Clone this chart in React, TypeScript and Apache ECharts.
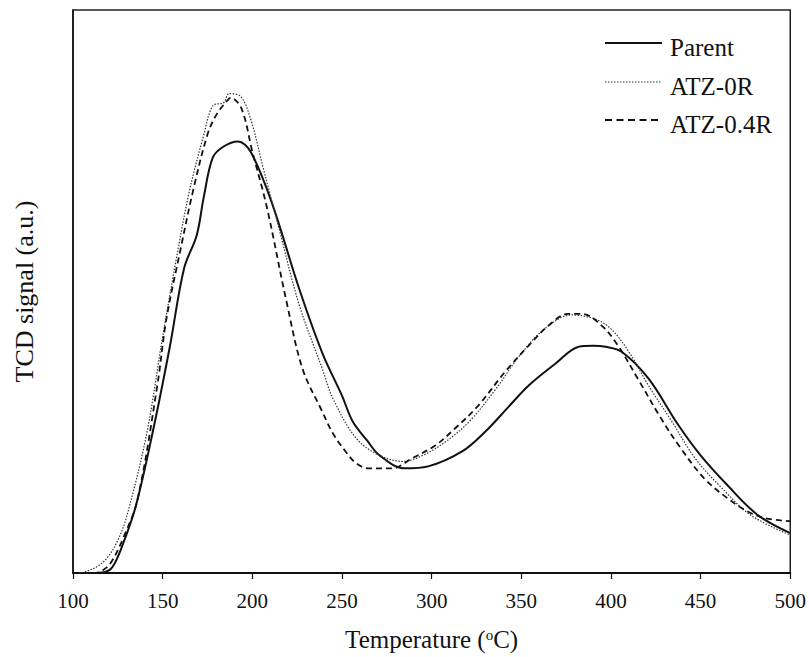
import React, { useEffect, useRef } from "react";
import * as echarts from "echarts";

const parentT = [100, 110, 118, 122, 127, 135, 145, 154, 162, 169, 173, 178, 184, 192, 199, 211, 226, 239, 250, 256, 264, 271, 285, 298, 317, 330, 343, 354, 369, 382, 390, 397, 406, 421, 437, 450, 465, 482, 500];
const parentV = [0, 0, 1, 6, 25, 67, 146, 227, 306, 339, 378, 417, 428, 433, 423, 371, 286, 221, 178, 152, 133, 118, 105, 107, 122, 142, 167, 188, 210, 227, 228, 227, 222, 195, 150, 118, 88, 58, 40];

const atz0T = [100, 104, 108, 113, 119, 125, 130, 141, 150, 158, 165, 173, 178, 184, 187, 193, 199, 206, 215, 226, 239, 245, 258, 271, 284, 295, 308, 321, 336, 349, 363, 378, 391, 400, 410, 421, 434, 447, 462, 478, 500];
const atz0V = [0, 0, 2, 6, 15, 33, 57, 139, 237, 319, 384, 440, 469, 472, 481, 479, 456, 407, 345, 270, 205, 175, 135, 118, 112, 118, 132, 152, 185, 218, 245, 259, 255, 245, 222, 188, 152, 115, 85, 58, 38];

const atz04T = [100, 112, 116, 121, 128, 136, 147, 152, 160, 167, 175, 180, 186, 188, 194, 200, 208, 219, 228, 239, 245, 252, 258, 265, 278, 289, 302, 313, 326, 341, 354, 365, 376, 384, 395, 404, 415, 428, 439, 452, 465, 476, 486, 500];
const atz04V = [0, 0, 2, 10, 35, 74, 188, 254, 325, 384, 440, 460, 474, 477, 466, 423, 368, 273, 205, 162, 140, 122, 110, 105, 105, 115, 128, 145, 168, 202, 228, 248, 260, 260, 248, 228, 195, 155, 125, 95, 75, 62, 55, 52];

const seriesNames = ["Parent", "ATZ-0R", "ATZ-0.4R"];
const xTicks = { min: 100, max: 500, interval: 50 };

const FONT = "'Liberation Serif', 'DejaVu Serif', serif";

const lineStyles = [
  { color: "#111", width: 2, type: "solid" as any },
  { color: "#333", width: 1.2, type: [1.5, 1.5] as any },
  { color: "#111", width: 1.8, type: [6, 4] as any },
];

function pairs(t: number[], v: number[]) {
  return t.map((x, i) => [x, v[i]]);
}

export default function App() {
  const ref = useRef<HTMLDivElement>(null);
  useEffect(() => {
    if (!ref.current) return;
    const chart = echarts.init(ref.current, undefined, { renderer: "svg" });
    const legendTops = [43, 82, 120];
    const legendGraphics: any[] = [];
    seriesNames.forEach((name, i) => {
      const ls = lineStyles[i];
      legendGraphics.push({
        type: "line",
        shape: { x1: 605, y1: legendTops[i], x2: 662, y2: legendTops[i] },
        style: {
          stroke: ls.color,
          lineWidth: i === 1 ? 1.2 : i === 2 ? 1.8 : 2,
          lineDash: i === 0 ? null : i === 1 ? [1.5, 1.5] : [7, 4.5],
        },
        silent: true,
      });
      legendGraphics.push({
        type: "text",
        x: 670,
        y: legendTops[i] + 4,
        style: {
          text: name,
          fontFamily: FONT,
          fontSize: 25,
          fill: "#111",
          verticalAlign: "middle",
          align: "left",
        },
        silent: true,
      });
    });
    chart.setOption({
      animation: false,
      backgroundColor: "#fff",
      grid: {
        left: 73,
        right: 17,
        top: 10,
        bottom: 82,
        show: true,
        borderColor: "#222",
        borderWidth: 1.5,
      },
      graphic: legendGraphics,
      xAxis: {
        type: "value",
        min: xTicks.min,
        max: xTicks.max,
        interval: xTicks.interval,
        name: "{a|Temperature (}{s|o}{a|C)}",
        nameLocation: "middle",
        nameGap: 54,
        nameTextStyle: {
          rich: {
            a: { fontFamily: FONT, fontSize: 25, color: "#111" },
            s: { fontFamily: FONT, fontSize: 15, color: "#111", verticalAlign: "top", padding: [0, 0, 9, 0] },
          },
        },
        axisLine: { show: true, lineStyle: { color: "#111", width: 2 } },
        axisTick: { show: true, length: 6, lineStyle: { color: "#111", width: 1.2 } },
        axisLabel: { fontFamily: FONT, fontSize: 21, color: "#111", margin: 17 },
        splitLine: { show: false },
      },
      yAxis: {
        type: "value",
        min: 0,
        max: 565,
        name: "TCD signal (a.u.)",
        nameLocation: "middle",
        nameGap: 36,
        nameRotate: 90,
        nameTextStyle: { fontFamily: FONT, fontSize: 26, color: "#111" },
        axisLine: { show: true, lineStyle: { color: "#111", width: 1.5 } },
        axisTick: { show: false },
        axisLabel: { show: false },
        splitLine: { show: false },
      },
      series: [
        {
          name: seriesNames[0],
          type: "line",
          symbol: "none",
          smooth: 0.35,
          data: pairs(parentT, parentV),
          lineStyle: lineStyles[0],
          itemStyle: { color: lineStyles[0].color },
        },
        {
          name: seriesNames[1],
          type: "line",
          symbol: "none",
          smooth: 0.35,
          data: pairs(atz0T, atz0V),
          lineStyle: lineStyles[1],
          itemStyle: { color: lineStyles[1].color },
        },
        {
          name: seriesNames[2],
          type: "line",
          symbol: "none",
          smooth: 0.35,
          data: pairs(atz04T, atz04V),
          lineStyle: lineStyles[2],
          itemStyle: { color: lineStyles[2].color },
        },
      ],
    });
    return () => chart.dispose();
  }, []);
  return (
    <div
      ref={ref}
      style={{ position: "absolute", left: 0, top: 0, width: 809, height: 657, background: "#fff" }}
    />
  );
}
